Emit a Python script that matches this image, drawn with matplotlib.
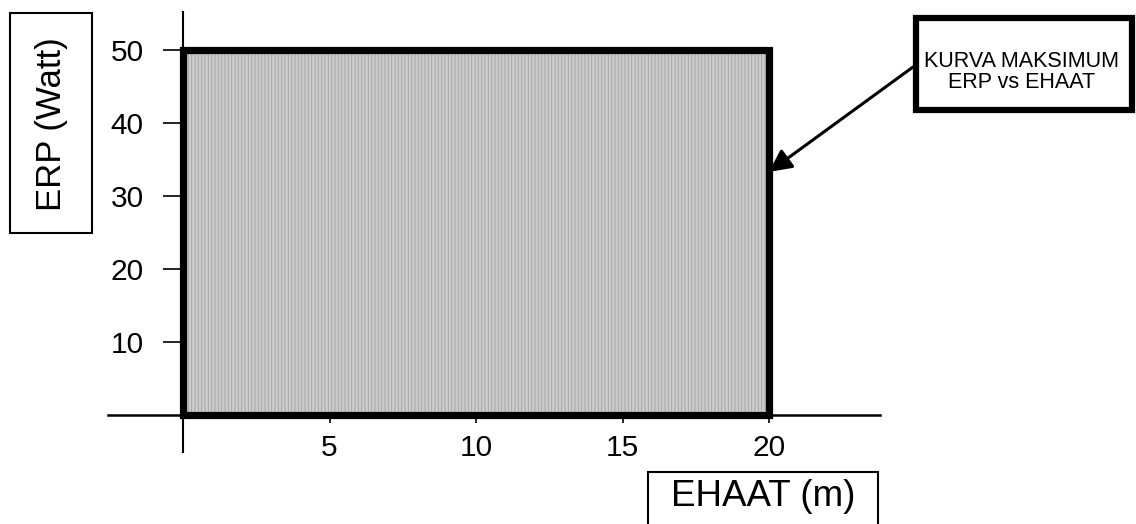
import matplotlib
matplotlib.use('Agg')
import matplotlib.pyplot as plt
from matplotlib.patches import Rectangle

# ---- data ----
ehaat_max = [20]          # m
erp_max = [50]            # Watt
x_ticks = [5, 10, 15, 20]
y_ticks = [10, 20, 30, 40, 50]
x_label = 'EHAAT (m)'
y_label = 'ERP (Watt)'
note = 'KURVA MAKSIMUM\nERP vs EHAAT'
arrow_target = (20.0, 33.3)

plt.rcParams['font.family'] = ['Liberation Sans', 'DejaVu Sans']

W, H = 1136, 524
fig = plt.figure(figsize=(W / 100, H / 100), dpi=100)
fig.patch.set_facecolor('white')
ax = fig.add_axes([0, 0, 1, 1])
ax.patch.set_alpha(0)

# pixel mapping of the reference
x0px, xs = 183, 29.3
y0px, ys = 415, 7.3
ax.set_xlim(-x0px / xs, (W - x0px) / xs)
ax.set_ylim(-(H - y0px) / ys, y0px / ys)


def fx(px):
    return px / W


def fy(py):
    return 1 - py / H


# spines as axes crossing at the origin
for s in ['top', 'right']:
    ax.spines[s].set_visible(False)
ax.spines['left'].set_position(('data', 0))
ax.spines['bottom'].set_position(('data', 0))
ax.spines['left'].set_bounds((y0px - 452) / ys, (y0px - 12) / ys)
ax.spines['bottom'].set_bounds((108 - x0px) / xs, (880 - x0px) / xs)
ax.spines['left'].set_linewidth(1.5)
ax.spines['bottom'].set_linewidth(1.8)

ax.set_xticks(x_ticks)
ax.set_yticks(y_ticks)
ax.set_xticklabels([str(v) for v in x_ticks])
ax.set_yticklabels([str(v) for v in y_ticks])
ax.tick_params(axis='y', direction='out', length=14.4, width=1.2, pad=14, labelsize=21.5)
ax.tick_params(axis='x', direction='out', length=6, width=1.2, pad=8, labelsize=21.5)

# maximum area
ax.bar(0, erp_max[0], width=ehaat_max[0], align='edge', facecolor='#cbcbcb',
       edgecolor='none', linewidth=0, zorder=3)
plt.rcParams['hatch.linewidth'] = 0.6
ax.bar(0, erp_max[0], width=ehaat_max[0], align='edge', facecolor='none',
       edgecolor='#a2a2a2', hatch='|||||', linewidth=0, zorder=3.1)
ax.bar(0, erp_max[0], width=ehaat_max[0], align='edge', facecolor='none',
       edgecolor='black', linewidth=5.2, zorder=3.2, joinstyle='miter')

# y-label box
fig.add_artist(Rectangle((fx(10), fy(233)), fx(92) - fx(10), fy(13) - fy(233),
                         transform=fig.transFigure, fill=False, lw=1.5, ec='black'))
fig.text(fx(51), fy(124), y_label, rotation=90, ha='center', va='center', fontsize=25)

# x-label box
fig.add_artist(Rectangle((fx(648), fy(540)), fx(878) - fx(648), fy(472) - fy(540),
                         transform=fig.transFigure, fill=False, lw=1.5, ec='black'))
fig.text(fx(763), fy(496), x_label, ha='center', va='center', fontsize=26.5)

# note box
fig.add_artist(Rectangle((fx(916), fy(110)), fx(1132) - fx(916), fy(18) - fy(110),
                         transform=fig.transFigure, fill=False, lw=4.5, ec='black',
                         joinstyle='miter'))
fig.text(fx(1022), fy(72), note, ha='center', va='center', fontsize=15.5, linespacing=1.05)

# arrow
ax.annotate('', xy=arrow_target, xycoords='data',
            xytext=(fx(913), fy(67)), textcoords='figure fraction',
            arrowprops=dict(arrowstyle='-|>', mutation_scale=34, lw=2.2,
                            color='black', shrinkA=0, shrinkB=0),
            zorder=5)

fig.savefig('out.png', dpi=100)
